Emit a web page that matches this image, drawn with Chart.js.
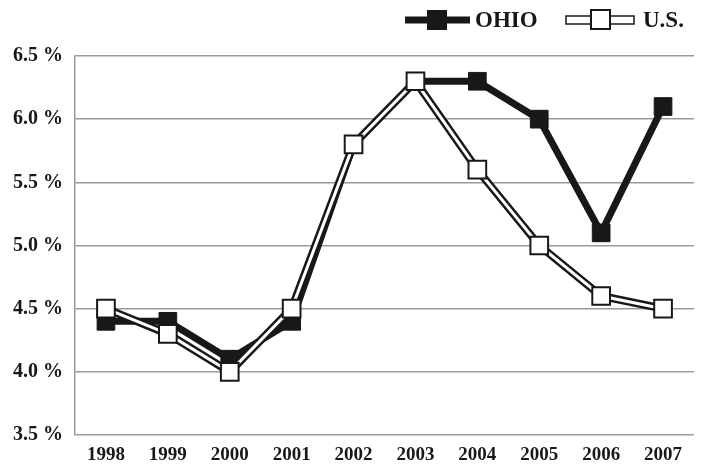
<!DOCTYPE html>
<html>
<head>
<meta charset="utf-8">
<script src="https://cdn.jsdelivr.net/npm/chart.js@4"></script>
<style>
  html, body { margin:0; padding:0; background:#fff; }
  #wrap { width:702px; height:466px; }
</style>
</head>
<body>
<div id="wrap"><canvas id="chart" width="702" height="466"></canvas></div>
<script>
// data
const years = ['1998','1999','2000','2001','2002','2003','2004','2005','2006','2007'];
const ohio = [4.4, 4.4, 4.1, 4.4, 5.8, 6.3, 6.3, 6.0, 5.1, 6.1];
const us   = [4.5, 4.3, 4.0, 4.5, 5.8, 6.3, 5.6, 5.0, 4.6, 4.5];
const yTicks = [3.5, 4.0, 4.5, 5.0, 5.5, 6.0, 6.5];

const FONT = '"Liberation Serif", "Times New Roman", serif';

// legend drawn by hand (line + square marker style)
const legendPlugin = {
  id: 'customLegend',
  afterDraw(chart){
    const ctx = chart.ctx;
    const y = 20;
    ctx.save();
    // OHIO
    ctx.strokeStyle = '#1a1718';
    ctx.lineWidth = 7;
    ctx.beginPath(); ctx.moveTo(405, y); ctx.lineTo(470, y); ctx.stroke();
    ctx.fillStyle = '#1a1718';
    ctx.fillRect(427, y-10, 20, 20);
    ctx.font = 'bold 23px ' + FONT;
    ctx.textBaseline = 'middle';
    ctx.textAlign = 'left';
    ctx.fillText('OHIO', 475, y+1);
    // U.S.
    ctx.lineWidth = 1.5;
    ctx.fillStyle = '#fff';
    ctx.fillRect(566, y-4, 68, 8);
    ctx.strokeRect(566, y-4, 68, 8);
    ctx.fillRect(591, y-10, 19, 19);
    ctx.lineWidth = 2;
    ctx.strokeRect(591, y-10, 19, 19);
    ctx.fillStyle = '#1a1718';
    ctx.fillText('U.S.', 643, y+1);
    ctx.restore();
  }
};

new Chart(document.getElementById('chart').getContext('2d'), {
  type: 'line',
  data: {
    labels: years,
    datasets: [
      {
        label: 'U.S.',
        data: us,
        order: 0,
        borderColor: '#ffffff',
        borderWidth: 3,
        pointStyle: 'rect',
        pointRadius: 12.5,
        pointBackgroundColor: '#ffffff',
        pointBorderColor: '#1a1718',
        pointBorderWidth: 2,
        tension: 0
      },
      {
        label: 'U.S. outline',
        data: us,
        order: 1,
        borderColor: '#1a1718',
        borderWidth: 8,
        pointRadius: 0,
        tension: 0
      },
      {
        label: 'OHIO',
        data: ohio,
        order: 2,
        borderColor: '#1a1718',
        borderWidth: 7,
        pointStyle: 'rect',
        pointRadius: 12.5,
        pointBackgroundColor: '#1a1718',
        pointBorderColor: '#1a1718',
        pointBorderWidth: 1,
        tension: 0
      }
    ]
  },
  options: {
    responsive: false,
    animation: false,
    layout: { autoPadding: false, padding: { top: 56, right: 8, left: 0, bottom: 0 } },
    plugins: { legend: { display: false }, tooltip: { enabled: false } },
    elements: { line: { borderJoinStyle: 'miter' } },
    scales: {
      x: {
        offset: true,
        afterFit(scale){ scale.height = 31; },
        grid: { display: false },
        border: { display: false },
        ticks: { color: '#1a1718', font: { family: FONT, size: 19, weight: 'bold' }, padding: 1, maxRotation: 0 }
      },
      y: {
        min: 3.5,
        max: 6.5,
        afterFit(scale){ scale.width = 75; },
        afterBuildTicks(scale){ scale.ticks = yTicks.map(v => ({ value: v })); },
        grid: { color: '#9a9a9a', lineWidth: 1.5, drawTicks: false },
        border: { display: true, color: '#9a9a9a', width: 1.5 },
        ticks: {
          color: '#1a1718',
          padding: 12,
          font: { family: FONT, size: 20, weight: 'bold' },
          callback: v => v.toFixed(1) + ' %'
        }
      }
    }
  },
  plugins: [legendPlugin]
});
</script>
</body>
</html>
